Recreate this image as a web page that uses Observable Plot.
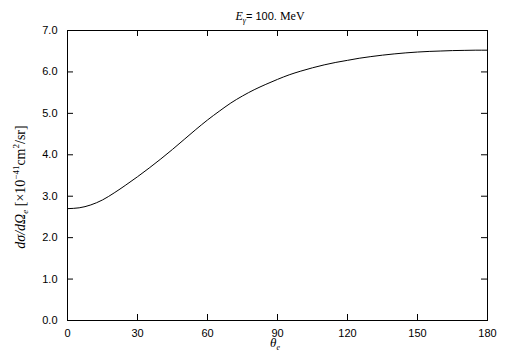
<!DOCTYPE html>
<html><head><meta charset="utf-8">
<script src="https://cdn.jsdelivr.net/npm/d3@7"></script>
<script src="https://cdn.jsdelivr.net/npm/@observablehq/plot@0.6"></script>
<style>body{margin:0;background:#fff}</style>
</head><body><div id="chart"></div>
<script>
const theta = [0,5,10,15,20,25,30,35,40,45,50,55,60,65,70,75,80,85,90,95,100,105,110,115,120,125,130,135,140,145,150,155,160,165,170,175,180];
const sigma = [2.70,2.72,2.79,2.91,3.08,3.27,3.47,3.68,3.90,4.13,4.37,4.61,4.84,5.05,5.25,5.42,5.57,5.70,5.82,5.93,6.02,6.10,6.17,6.23,6.28,6.33,6.37,6.405,6.435,6.46,6.48,6.495,6.505,6.515,6.52,6.525,6.525];
const xTicks = [0,30,60,90,120,150,180];
const yTicks = [0,1,2,3,4,5,6,7];

const W = 505, H = 361, mL = 67, mR = 18, mT = 30, mB = 41;
const plotH = H - mT - mB, plotW = W - mL - mR;
const data = theta.map((t, i) => ({t, s: sigma[i]}));

const chart = Plot.plot({
  width: W, height: H,
  marginLeft: mL, marginRight: mR, marginTop: mT, marginBottom: mB,
  style: {fontFamily: "'Liberation Sans', Arial, sans-serif", fontSize: "11px", background: "#fff", color: "#000"},
  x: {domain: [0, 180]},
  y: {domain: [0, 7]},
  marks: [
    Plot.tickX(xTicks, {x: d => d, insetTop: plotH - 6, stroke: "#000"}),
    Plot.tickX(xTicks, {x: d => d, insetBottom: plotH - 6, stroke: "#000"}),
    Plot.tickY(yTicks, {y: d => d, insetRight: plotW - 6, stroke: "#000"}),
    Plot.tickY(yTicks, {y: d => d, insetLeft: plotW - 6, stroke: "#000"}),
    Plot.axisX(xTicks, {tickSize: 0, tickPadding: 9, label: null, tickFormat: d => String(d)}),
    Plot.axisY(yTicks, {tickSize: 0, tickPadding: 10, label: null, tickFormat: d => d.toFixed(1)}),
    Plot.line(data, {x: "t", y: "s", stroke: "#000", strokeWidth: 1, curve: "monotone-x"}),
    Plot.frame({stroke: "#000"})
  ]
});
document.getElementById("chart").append(chart);

const svg = d3.select(chart);
const serif = "'Liberation Serif', 'Times New Roman', serif";
const sans = "'Liberation Sans', Arial, sans-serif";

// Title
const t = svg.append("text").attr("x", 270).attr("y", 20).attr("text-anchor", "middle").attr("font-size", 12).attr("fill", "#000");
t.append("tspan").attr("font-family", serif).attr("font-style", "italic").text("E");
t.append("tspan").attr("font-family", serif).attr("font-style", "italic").attr("font-size", 8).attr("dy", 3).text("γ");
t.append("tspan").attr("dy", -3).attr("font-family", sans).attr("font-size", 11).text("= 100. ");
t.append("tspan").attr("font-family", serif).text("MeV");

// Y label
const yl = svg.append("text").attr("transform", "translate(25,187) rotate(-90)").attr("text-anchor", "middle").attr("font-size", 14).attr("font-family", serif).attr("fill", "#000");
yl.append("tspan").attr("font-style", "italic").text("dσ/dΩ");
yl.append("tspan").attr("font-style", "italic").attr("font-size", 9).attr("dy", 3).text("e");
yl.append("tspan").attr("dy", -3).text(" [×10");
yl.append("tspan").attr("font-size", 9).attr("dy", -6).text("−41");
yl.append("tspan").attr("dy", 6).text("cm");
yl.append("tspan").attr("font-size", 9).attr("dy", -6).text("2");
yl.append("tspan").attr("dy", 6).text("/sr]");

// X label
const xl = svg.append("text").attr("x", 275).attr("y", 347).attr("text-anchor", "middle").attr("font-size", 13).attr("font-family", serif).attr("fill", "#000");
xl.append("tspan").attr("font-style", "italic").text("θ");
xl.append("tspan").attr("font-style", "italic").attr("font-size", 8).attr("dy", 3).text("e");
</script>
</body></html>
